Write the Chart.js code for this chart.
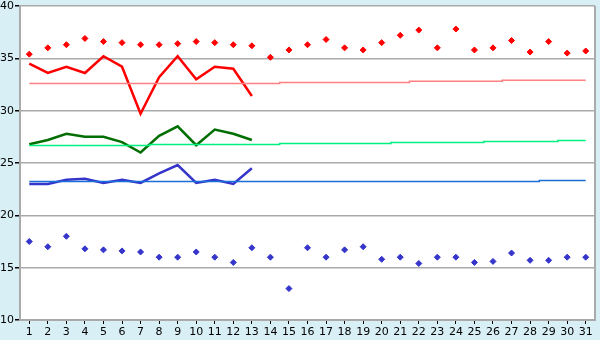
<!DOCTYPE html>
<html><head><meta charset="utf-8">
<script src="https://cdn.jsdelivr.net/npm/chart.js@4"></script>
<style>html,body{margin:0;padding:0;background:#d9eff6;}#wrap{width:600px;height:340px;}</style>
</head><body><div id="wrap"><canvas id="c" width="600" height="340"></canvas></div>
<script>
const days = Array.from({length:31},(_,i)=>String(i+1));
const redDots = [35.4,36.0,36.3,36.9,36.6,36.5,36.3,36.3,36.4,36.6,36.5,36.3,36.2,35.1,35.8,36.3,36.8,36.0,35.8,36.5,37.2,37.7,36.0,37.8,35.8,36.0,36.7,35.6,36.6,35.5,35.7];
const redLine = [34.5,33.6,34.2,33.6,35.2,34.2,29.7,33.2,35.2,33.0,34.2,34.0,31.4];
const redRef = [32.6,32.6,32.6,32.6,32.6,32.6,32.6,32.6,32.6,32.6,32.6,32.6,32.6,32.6,32.7,32.7,32.7,32.7,32.7,32.7,32.7,32.8,32.8,32.8,32.8,32.8,32.9,32.9,32.9,32.9,32.9];
const greenLine = [26.8,27.2,27.8,27.5,27.5,27.0,26.0,27.6,28.5,26.7,28.2,27.8,27.2];
const greenRef = [26.67,26.67,26.67,26.67,26.67,26.67,26.67,26.76,26.76,26.76,26.76,26.76,26.76,26.76,26.86,26.86,26.86,26.86,26.86,26.86,26.96,26.96,26.96,26.96,26.96,27.05,27.05,27.05,27.05,27.15,27.15];
const blueLine = [23.0,23.0,23.4,23.5,23.1,23.4,23.1,24.0,24.8,23.1,23.4,23.0,24.5];
const blueRef = [23.23,23.23,23.23,23.23,23.23,23.23,23.23,23.23,23.23,23.23,23.23,23.23,23.23,23.23,23.23,23.23,23.23,23.23,23.23,23.23,23.23,23.23,23.23,23.23,23.23,23.23,23.23,23.23,23.33,23.33,23.33];
const blueDots = [17.5,17.0,18.0,16.8,16.7,16.6,16.5,16.0,16.0,16.5,16.0,15.5,16.9,16.0,13.0,16.9,16.0,16.7,17.0,15.8,16.0,15.4,16.0,16.0,15.5,15.6,16.4,15.7,15.7,16.0,16.0];
const yTicks = [10,15,20,25,30,35,40];

const bgPlugin = {
  id:'bg',
  beforeDraw(chart){
    const {ctx, chartArea:a} = chart;
    ctx.save(); ctx.fillStyle='#ffffff';
    ctx.fillRect(a.left,a.top,a.right-a.left,a.bottom-a.top); ctx.restore();
  },
  afterDatasetsDraw(chart){
    const {ctx, chartArea:a} = chart;
    ctx.save(); ctx.strokeStyle='#aaaaaa'; ctx.lineWidth=2;
    ctx.beginPath(); ctx.moveTo(a.right, a.top); ctx.lineTo(a.right, a.bottom); ctx.stroke(); ctx.restore();
  }
};
const line = (data,color,w,stepped)=>({type:'line',data,borderColor:color,backgroundColor:color,borderWidth:w,pointRadius:0,tension:0,stepped:stepped||false,spanGaps:false});
const dots = (data,color)=>({type:'line',data,showLine:false,pointStyle:'rectRot',pointRadius:3,pointBackgroundColor:color,pointBorderColor:color,borderColor:color,backgroundColor:color});

new Chart(document.getElementById('c'),{
  type:'line',
  data:{labels:days,datasets:[
    line(redRef,'#ff8080',1.5,'middle'),
    line(greenRef,'#00f080',1.5,'middle'),
    line(blueRef,'#1a70d8',1.5,'middle'),
    line(redLine,'#ff0000',2.5),
    line(greenLine,'#006e00',2.5),
    line(blueLine,'#3535cc',2.5),
    dots(redDots,'#ff0000'),
    dots(blueDots,'#3535cc')
  ]},
  options:{
    responsive:false,animation:false,
    layout:{padding:{top:6,right:5,left:0,bottom:0}},
    plugins:{legend:{display:false},tooltip:{enabled:false}},
    scales:{
      x:{offset:true,
        grid:{offset:false,drawOnChartArea:false,drawTicks:true,tickLength:4,tickColor:'#000'},
        border:{color:'#aaaaaa',width:2},
        ticks:{color:'#000',font:{family:'DejaVu Sans',size:11},padding:2,maxRotation:0,autoSkip:false},
        afterFit(s){s.height=20;s.paddingLeft=0;s.paddingRight=0;}
      },
      y:{min:10,max:40,
        afterBuildTicks(s){s.ticks=yTicks.map(v=>({value:v}));},
        grid:{color:'#aaaaaa',lineWidth:1.5,tickLength:5,tickColor:'#000'},
        border:{color:'#aaaaaa',width:2},
        ticks:{color:'#000',font:{family:'DejaVu Sans',size:11},padding:1},
        afterFit(s){s.width=20;s.paddingTop=0;s.paddingBottom=0;}
      }
    }
  },
  plugins:[bgPlugin]
});
</script></body></html>
